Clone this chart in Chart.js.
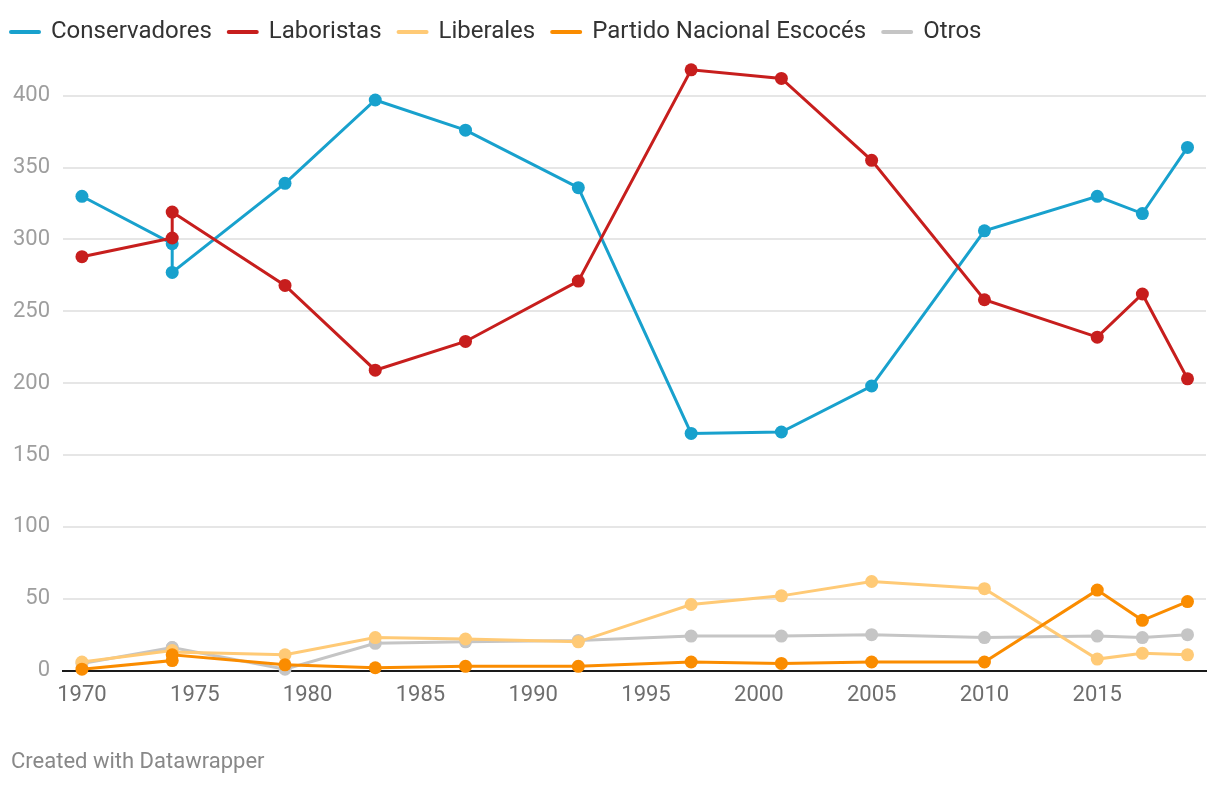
<!DOCTYPE html>
<html>
<head>
<meta charset="utf-8">
<script src="https://cdn.jsdelivr.net/npm/chart.js@4/dist/chart.umd.min.js"></script>
<style>
  body { margin: 0; background: #fff; font-family: Roboto, sans-serif; }
  #wrap { position: relative; width: 1220px; height: 786px; }
  #footer { position: absolute; left: 11px; top: 748px; font-size: 22px; color: #888; }
</style>
</head>
<body>
<div id="wrap">
  <canvas id="chart"></canvas>
  <div id="footer">Created with Datawrapper</div>
</div>
<script>
// election years (Feb and Oct 1974 both sit on 1974)
var years = [1970, 1974, 1974, 1979, 1983, 1987, 1992, 1997, 2001, 2005, 2010, 2015, 2017, 2019];

var conservadores = [330, 297, 277, 339, 397, 376, 336, 165, 166, 198, 306, 330, 318, 364];
var laboristas    = [288, 301, 319, 268, 209, 229, 271, 418, 412, 355, 258, 232, 262, 203];
var liberales     = [6, 14, 13, 11, 23, 22, 20, 46, 52, 62, 57, 8, 12, 11];
var snp           = [1, 7, 11, 4, 2, 3, 3, 6, 5, 6, 6, 56, 35, 48];
var otros         = [5, 16, 16, 1, 19, 20, 21, 24, 24, 25, 23, 24, 23, 25];

var yTicks = [0, 50, 100, 150, 200, 250, 300, 350, 400];
var xTicks = [1970, 1975, 1980, 1985, 1990, 1995, 2000, 2005, 2010, 2015];

function pts(vals) {
  return years.map(function (x, i) { return { x: x, y: vals[i] }; });
}

function series(label, vals, color, order) {
  return {
    label: label,
    data: pts(vals),
    borderColor: color,
    backgroundColor: color,
    pointBackgroundColor: color,
    borderWidth: 3,
    pointRadius: 6.5,
    pointBorderWidth: 0,
    pointHoverRadius: 6.5,
    tension: 0,
    clip: false,
    order: order,
  };
}

var ctx = document.getElementById("chart").getContext("2d");
var myChart = new Chart(ctx, {
  type: "line",
  data: {
    datasets: [
      series("Conservadores", conservadores, "#18a1cd", 4),
      series("Laboristas", laboristas, "#c71e1d", 3),
      series("Liberales", liberales, "#ffca76", 2),
      series("Partido Nacional Escocés", snp, "#fa8c00", 1),
      series("Otros", otros, "#c5c5c5", 5),
    ],
  },
  options: {
    responsive: true,
    maintainAspectRatio: false,
    animation: false,
    layout: {
      padding: { top: 3, left: -6, right: 14, bottom: 65 },
    },
    plugins: {
      legend: {
        display: true,
        position: "top",
        align: "start",
        labels: {
          usePointStyle: true,
          pointStyle: "line",
          pointStyleWidth: 28,
          padding: 17,
          color: "#333",
          font: { family: "Roboto", size: 24 },
          generateLabels: function (chart) {
            var items = Chart.defaults.plugins.legend.labels.generateLabels(chart);
            items.sort(function (a, b) { return a.datasetIndex - b.datasetIndex; });
            items.forEach(function (it) {
              it.lineWidth = 4;
              it.lineCap = "round";
              it.pointStyle = "line";
            });
            return items;
          },
        },
      },
      title: { display: false },
      tooltip: { enabled: false },
    },
    scales: {
      x: {
        type: "linear",
        min: 1969.16,
        max: 2019.82,
        afterBuildTicks: function (axis) {
          axis.ticks = xTicks.map(function (v) { return { value: v }; });
        },
        ticks: {
          padding: 12,
          color: "#6e6e6e",
          font: { family: "Roboto", size: 22 },
          maxRotation: 0,
          autoSkip: false,
          callback: function (v) { return String(v); },
        },
        grid: { display: false, drawTicks: false },
        border: { display: true, color: "#1a1a1a", width: 2 },
      },
      y: {
        min: 0,
        max: 429,
        afterBuildTicks: function (axis) {
          axis.ticks = yTicks.map(function (v) { return { value: v }; });
        },
        afterFit: function (scale) { scale.width = 69; },
        ticks: {
          padding: 13,
          color: "#9e9e9e",
          font: { family: "Roboto", size: 22 },
          callback: function (v) { return String(v); },
        },
        grid: { color: "#e6e6e6", lineWidth: 2, drawTicks: false },
        border: { display: false },
      },
    },
  },
});
</script>
</body>
</html>
